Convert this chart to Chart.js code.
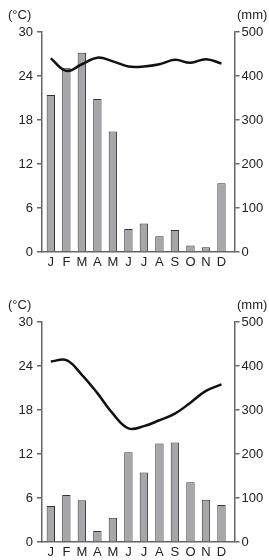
<!DOCTYPE html>
<html>
<head>
<meta charset="utf-8">
<script src="https://cdn.jsdelivr.net/npm/chart.js@4/dist/chart.umd.min.js"></script>
<style>
  html, body { margin: 0; padding: 0; background: #fff; }
  body { width: 269px; height: 560px; position: relative; overflow: hidden; font-family: "Liberation Sans", Arial, sans-serif; }
  .box { position: absolute; left: 0; width: 269px; height: 270px; }
  .unit { position: absolute; font-size: 13px; color: #222; line-height: 1; }
</style>
</head>
<body>
<div class="box" style="top:0"><canvas id="c1" width="269" height="270"></canvas></div>
<div class="box" style="top:290px"><canvas id="c2" width="269" height="270"></canvas></div>
<span class="unit" style="left:8px;top:8px">(°C)</span>
<span class="unit" style="left:237px;top:8px">(mm)</span>
<span class="unit" style="left:8px;top:298px">(°C)</span>
<span class="unit" style="left:237px;top:298px">(mm)</span>
<script>
const months = ["J","F","M","A","M","J","J","A","S","O","N","D"];
const tempTicks = [0, 6, 12, 18, 24, 30];
const precipTicks = [0, 100, 200, 300, 400, 500];

const temp1 = [26.4, 24.7, 25.6, 26.5, 26.0, 25.3, 25.3, 25.6, 26.2, 25.8, 26.3, 25.7];
const precip1 = [357, 419, 453, 348, 274, 52, 65, 36, 50, 15, 11, 156];

const temp2 = [24.6, 24.8, 22.8, 20.3, 17.5, 15.5, 15.8, 16.6, 17.5, 19.0, 20.6, 21.5];
const precip2 = [82, 107, 95, 25, 55, 204, 158, 224, 226, 136, 96, 84];

const axisColor = "#666";
const labelColor = "#222";
const font = { family: "'Liberation Sans', Arial, sans-serif", size: 13 };

function makeChart(id, temps, precip) {
  new Chart(document.getElementById(id), {
    type: "bar",
    data: {
      datasets: [
        {
          type: "line",
          data: temps.map((v, i) => ({ x: i, y: v })),
          yAxisID: "y",
          xAxisID: "x",
          borderColor: "#111",
          borderWidth: 2.5,
          pointRadius: 0,
          tension: 0.4,
          fill: false,
          order: 0
        },
        {
          type: "bar",
          data: precip.map((v, i) => ({ x: i, y: v })),
          yAxisID: "y1",
          xAxisID: "x",
          backgroundColor: "#a6a6ab",
          borderColor: "#333",
          borderWidth: 1,
          barPercentage: 0.54,
          categoryPercentage: 1,
          order: 1
        }
      ]
    },
    options: {
      responsive: false,
      animation: false,
      events: [],
      layout: { padding: { top: 32, left: 0, right: 0, bottom: 0 } },
      plugins: { legend: { display: false }, tooltip: { enabled: false } },
      scales: {
        x: {
          type: "linear",
          offset: false,
          min: -0.57,
          max: 11.84,
          afterBuildTicks: s => { s.ticks = months.map((_, i) => ({ value: i })); },
          afterFit: s => { s.height = 18; },
          grid: { display: false, drawTicks: false },
          border: { display: true, color: axisColor, width: 1.5 },
          ticks: {
            autoSkip: false,
            maxRotation: 0,
            padding: 3,
            color: labelColor,
            font: font,
            callback: v => months[v]
          }
        },
        y: {
          position: "left",
          min: 0,
          max: 30,
          afterBuildTicks: s => { s.ticks = tempTicks.map(v => ({ value: v })); },
          afterFit: s => { s.width = 42; },
          grid: { drawOnChartArea: false, drawTicks: true, tickLength: 5, color: axisColor, lineWidth: 1.5 },
          border: { display: true, color: axisColor, width: 1.5 },
          ticks: { padding: 4, color: labelColor, font: font }
        },
        y1: {
          position: "right",
          min: 0,
          max: 500,
          afterBuildTicks: s => { s.ticks = precipTicks.map(v => ({ value: v })); },
          afterFit: s => { s.width = 34.5; },
          grid: { drawOnChartArea: false, drawTicks: true, tickLength: 5, color: axisColor, lineWidth: 1.5 },
          border: { display: true, color: axisColor, width: 1.5 },
          ticks: { padding: 2, color: labelColor, font: font }
        }
      }
    }
  });
}

makeChart("c1", temp1, precip1);
makeChart("c2", temp2, precip2);
</script>
</body>
</html>
